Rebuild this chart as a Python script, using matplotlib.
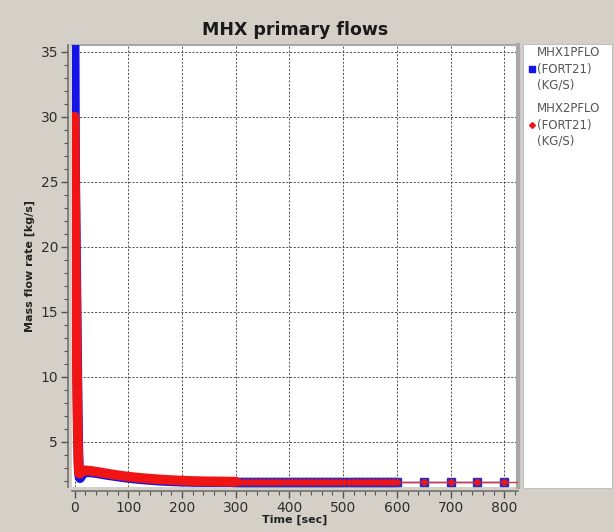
import matplotlib.pyplot as plt
from matplotlib.lines import Line2D
from matplotlib.patches import Rectangle
from matplotlib.ticker import MultipleLocator

# transient: fast drop over the first seconds, then slow decay up to 300 s
t_early = [0, 1, 2, 3, 4, 5, 6, 7, 8, 9, 10, 12, 15, 20, 30, 40, 50, 60, 70, 80,
           90, 100, 120, 140, 160, 180, 200, 220, 240, 260, 280, 300]
mhx1_early = [36.0, 26.0, 22.0, 18.0, 14.0, 10.5, 7.0, 4.5, 2.8, 2.3, 2.2, 2.3, 2.55, 2.65,
              2.64, 2.59, 2.52, 2.45, 2.39, 2.33, 2.27, 2.22, 2.13, 2.06, 2.00, 1.96,
              1.93, 1.91, 1.90, 1.90, 1.90, 1.90]
mhx2_early = [30.0, 24.0, 20.0, 16.0, 12.0, 8.5, 5.5, 3.5, 2.6, 2.55, 2.55, 2.62, 2.72, 2.80,
              2.76, 2.70, 2.63, 2.56, 2.49, 2.43, 2.37, 2.32, 2.23, 2.16, 2.10, 2.05,
              2.01, 1.98, 1.96, 1.95, 1.94, 1.93]

# steady state output points
t_late = [300, 307.5, 315, 322.5, 330, 337.5, 345, 352.5, 360, 367.5, 375, 382.5, 390,
          397.5, 405, 412.5, 420, 427.5, 435, 442.5, 450, 457.5, 465, 472.5, 480, 487.5,
          495, 502.5, 510, 517.5, 525, 532.5, 540, 547.5, 555, 562.5, 570, 577.5, 585,
          592.5, 600, 650, 700, 750, 800]
mhx1_late = [1.93, 1.93, 1.93, 1.93, 1.93, 1.93, 1.93, 1.93, 1.93, 1.93, 1.93, 1.93, 1.93,
             1.93, 1.93, 1.93, 1.93, 1.93, 1.93, 1.93, 1.93, 1.93, 1.93, 1.93, 1.93, 1.93,
             1.93, 1.93, 1.93, 1.93, 1.93, 1.93, 1.93, 1.93, 1.93, 1.93, 1.93, 1.93, 1.93,
             1.93, 1.93, 1.93, 1.93, 1.93, 1.93]
mhx2_late = list(mhx1_late)
t_tail = [800, 850]
mhx2_tail = [1.93, 1.93]

BG = "#d4d0c8"
TXT = "#2e2e2e"
BLUE = "#1414e6"
RED = "#f01414"

fig = plt.figure(figsize=(6.14, 5.32), dpi=100, facecolor=BG)
ax = fig.add_axes([72 / 614, 45 / 532, 446 / 614, 442 / 532])

# dense part is drawn as a thick band, later points as markers
ax.plot(t_early, mhx1_early, color=BLUE, lw=7, solid_joinstyle="round",
        solid_capstyle="round", zorder=3)
ax.plot(t_early, mhx2_early, color=RED, lw=7, solid_joinstyle="round",
        solid_capstyle="round", zorder=4)
ax.plot(t_late, mhx1_late, color=BLUE, lw=1, marker="s", ms=5.5,
        mec="#2a2ab8", mfc="#3030d0", zorder=3)
ax.plot(t_tail, mhx2_tail, color="#d83a3a", lw=1, zorder=4)
ax.plot(t_late, mhx2_late, color="#d83a3a", lw=1, marker="D", ms=3.2,
        mec=RED, mfc=RED, zorder=4)

ax.set_xlim(-4.8, 825.5)
ax.set_ylim(1.52, 35.5)
ax.xaxis.set_major_locator(MultipleLocator(100))
ax.xaxis.set_minor_locator(MultipleLocator(20))
ax.yaxis.set_minor_locator(MultipleLocator(1))
ax.set_yticks([5, 10, 15, 20, 25, 30, 35])

ax.grid(True, which="major", color="#383838", linestyle=(0, (2.5, 2)), linewidth=0.6)
ax.set_axisbelow(True)

for side in ["left", "bottom"]:
    ax.spines[side].set_position(("outward", 3))
    ax.spines[side].set_color("#707070")
    ax.spines[side].set_linewidth(1.2)
ax.spines["top"].set_color("#a8a8a8")
ax.spines["top"].set_linewidth(1.5)
ax.spines["right"].set_color("#a8a8a8")
ax.spines["right"].set_linewidth(3)

ax.tick_params(which="major", direction="out", length=5, width=1, color="#505050",
               labelsize=10, labelcolor=TXT, pad=2)
ax.tick_params(which="minor", direction="out", length=3, width=0.8, color="#505050")

ax.set_title("MHX primary flows", fontsize=12.5, fontweight="bold", color="#1a1a1a", pad=7)
ax.set_xlabel("Time [sec]", fontsize=8, fontweight="bold", color="#222222", labelpad=0)
ax.set_ylabel("Mass flow rate [kg/s]", fontsize=8, fontweight="bold", color="#222222",
              labelpad=4)

# legend panel on the right
fig.patches.append(Rectangle((523 / 614, 44 / 532), 89 / 614, 444 / 532,
                             transform=fig.transFigure, facecolor="white",
                             edgecolor="#c0c0c0", lw=0.8, zorder=0))
legend_items = [("MHX1PFLO\n(FORT21)\n(KG/S)", "s", BLUE, 5, 69),
                ("MHX2PFLO\n(FORT21)\n(KG/S)", "D", RED, 3, 125)]
for label, mk, col, ms, yc in legend_items:
    y = 1 - yc / 532
    fig.text(537 / 614, y, label, fontsize=8.5, color="#555555", va="center",
             ha="left", linespacing=1.3)
    fig.add_artist(Line2D([531.5 / 614], [y], transform=fig.transFigure, marker=mk,
                          ms=ms, color=col, linestyle="none"))

fig.savefig("out.png", dpi=100, facecolor=BG)
